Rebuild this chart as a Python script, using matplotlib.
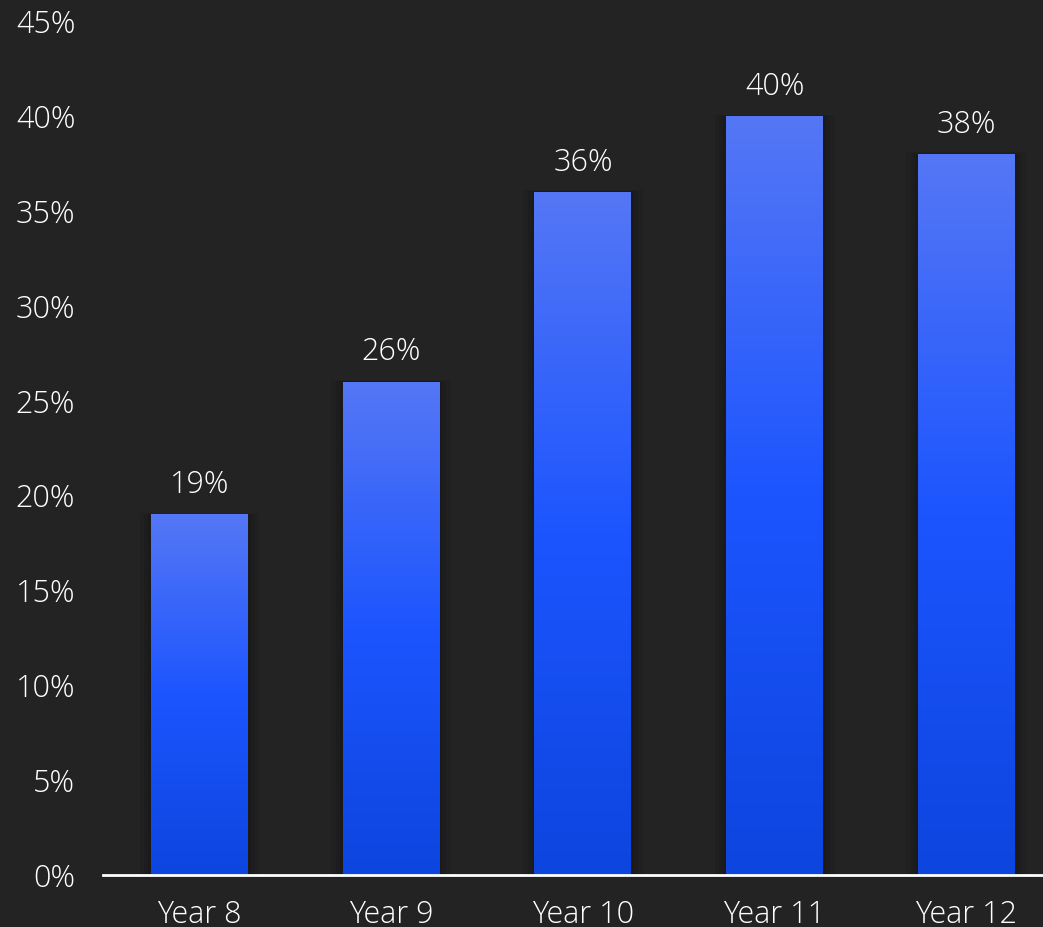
import numpy as np
import matplotlib
matplotlib.use("Agg")
import matplotlib.pyplot as plt
from matplotlib.colors import LinearSegmentedColormap
from matplotlib.ticker import FuncFormatter

# year groups and share (%)
years = ["Year 8", "Year 9", "Year 10", "Year 11", "Year 12"]
values = [19, 26, 36, 40, 38]
yticks = [0, 5, 10, 15, 20, 25, 30, 35, 40, 45]

BG = "#222322"
plt.rcParams["font.family"] = ["Open Sans", "DejaVu Sans"]
FS = 22
FW = 300

fig = plt.figure(figsize=(10.43, 9.27), dpi=100, facecolor=BG)
ax = fig.add_axes([103 / 1043, 52 / 927, 940 / 1043, 854 / 927])
ax.set_facecolor(BG)

grad = LinearSegmentedColormap.from_list(
    "bar", ["#0d45df", "#1c55fe", "#5577f5"])
img = np.linspace(0, 1, 256).reshape(-1, 1)

width = 0.505
bars = ax.bar(range(len(years)), values, width=width, color="none",
              edgecolor="none", zorder=2)
for b in bars:
    x0, h = b.get_x(), b.get_height()
    # soft shadow
    for k, a in [(0.06, 0.06), (0.035, 0.08), (0.015, 0.1)]:
        ax.add_patch(plt.Rectangle((x0 - k, 0), width + 2 * k, h + k * 1.2,
                                   color="black", alpha=a, lw=0, zorder=1))
    im = ax.imshow(img, cmap=grad, aspect="auto", origin="lower",
                   extent=[x0, x0 + width, 0, h], zorder=3)
    im.set_clip_path(b)
    ax.text(b.get_x() + width / 2, h + 0.7, f"{h:g}%", ha="center",
            va="bottom", color="white", fontsize=FS, fontweight=FW,
            zorder=4)

ax.set_xlim(-0.503, 4.4)
ax.set_ylim(0, 45)
ax.set_yticks(yticks)
ax.yaxis.set_major_formatter(FuncFormatter(lambda v, p: f"{v:g}%"))
ax.set_xticks(range(len(years)))
ax.set_xticklabels(years)

for s in ["top", "right", "left"]:
    ax.spines[s].set_visible(False)
ax.spines["bottom"].set_color("white")
ax.spines["bottom"].set_linewidth(2)
ax.spines["bottom"].set_zorder(5)

ax.tick_params(axis="y", length=0, pad=20, labelcolor="white", labelsize=FS)
ax.tick_params(axis="x", length=0, pad=17, labelcolor="white", labelsize=FS)
for lab in ax.get_xticklabels() + ax.get_yticklabels():
    lab.set_fontweight(FW)

fig.savefig("out.png", dpi=100, facecolor=BG)
